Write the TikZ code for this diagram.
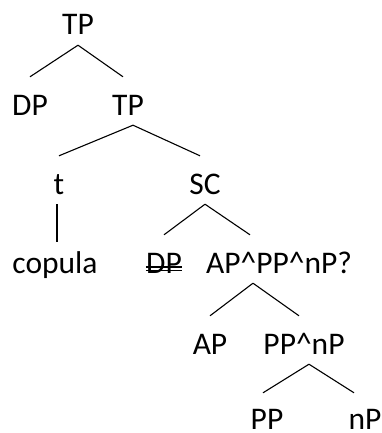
\documentclass[tikz,border=0pt]{standalone}
\usepackage{fontspec}
\setmainfont{Carlito}
\usepackage{tikz}
\usetikzlibrary{positioning}

\begin{document}
\begin{tikzpicture}[
      x=1pt, y=-1pt,
      cat/.style={anchor=base, inner sep=0pt, text height=38pt, text depth=10pt,
                  font=\fontsize{31.5}{31.5}\selectfont},
      branch/.style={line width=1.1pt},
      struck/.style={line width=1.3pt}
    ]
      \useasboundingbox (0,0) rectangle (382,433);

      \node [cat] (tp) at (78,35) {TP};
      \node [cat] (dp) at (30,115) {DP};
      \node [cat] (tpbar) at (128,115) {TP};
      \node [cat] (trace) at (59,194) {t};
      \node [cat] (sc) at (205,194) {SC};
      \node [cat] (copula) at (55,273) {copula};
      \node [cat] (dpcopy) at (164,273) {DP};
      \node [cat] (conj) at (279,273)
            {AP\textasciicircum PP\textasciicircum nP?};
      \node [cat] (ap) at (210,354) {AP};
      \node [cat] (ppnp) at (304,354) {PP\textasciicircum nP};
      \node [cat] (pp) at (267,429) {PP};
      \node [cat] (np) at (365,429) {nP};

      % deleted copy of the subject
      \draw [struck] ([yshift=6pt]dpcopy.base west) -- ([yshift=6pt]dpcopy.base east)
                     ([yshift=2.5pt]dpcopy.base west) -- ([yshift=2.5pt]dpcopy.base east);

      \path [branch] (tp.south) edge (dp.north)
            (tp.south) edge ([xshift=-5pt]tpbar.north)
            ([xshift=5pt]tpbar.south) edge (trace.north)
            ([xshift=5pt]tpbar.south) edge ([xshift=-5pt]sc.north)
            ([xshift=-2pt]trace.south) edge ([xshift=-2pt,yshift=-7pt]trace.south |- copula.north)
            (sc.south) edge (dpcopy.north)
            (sc.south) edge ([xshift=-29pt]conj.north)
            ([xshift=-26pt]conj.south) edge (ap.north)
            ([xshift=-26pt]conj.south) edge ([xshift=-5pt]ppnp.north)
            ([xshift=5pt]ppnp.south) edge ([xshift=-4pt,yshift=-2pt]pp.north)
            ([xshift=5pt]ppnp.south) edge ([xshift=-11pt,yshift=-2pt]np.north);
    \end{tikzpicture}
\end{document}
